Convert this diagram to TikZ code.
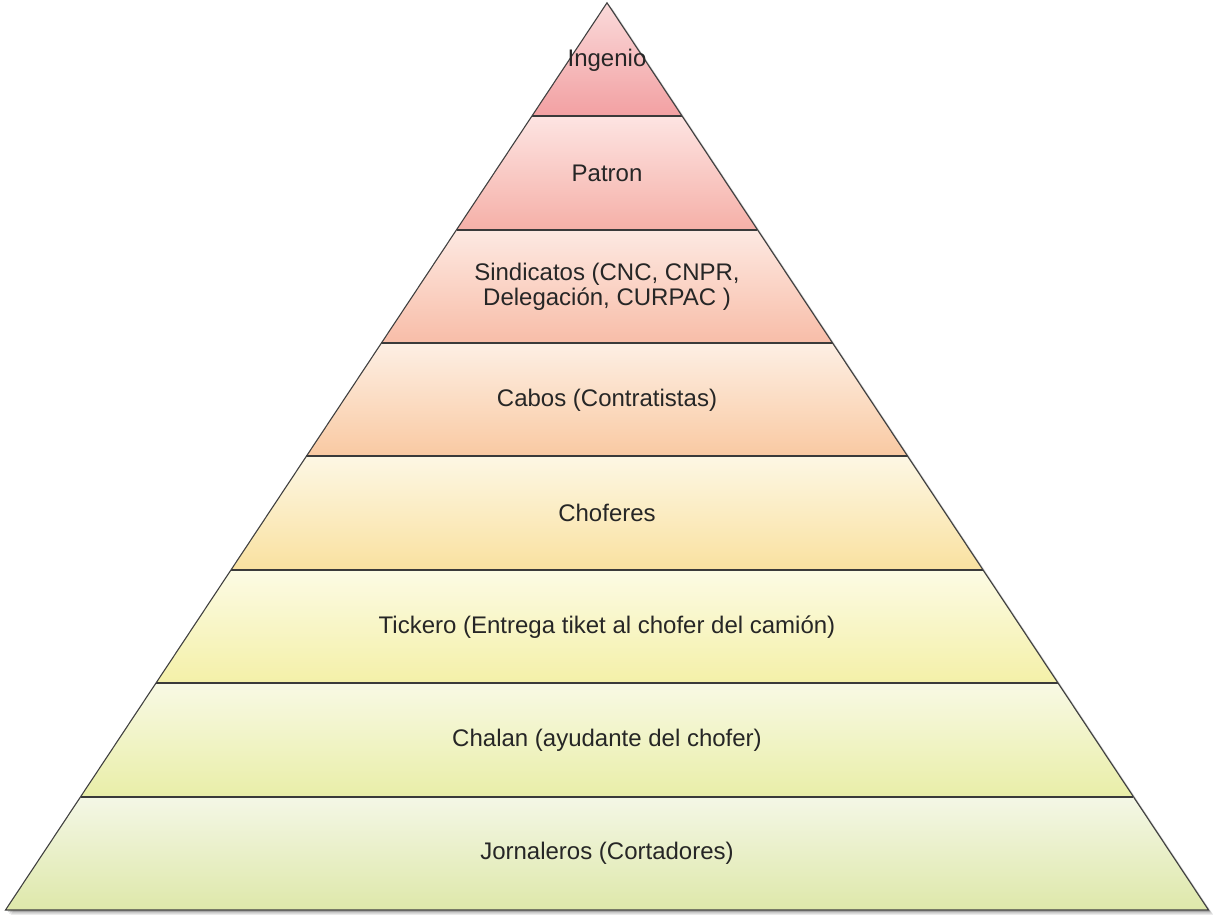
\documentclass[tikz,border=0pt]{standalone}
\usepackage{fontspec}
\setmainfont{Liberation Sans}
\definecolor{Lat}{HTML}{FADADA}\definecolor{Lab}{HTML}{F2A0A2}
\definecolor{Lbt}{HTML}{FDE4E2}\definecolor{Lbb}{HTML}{F5B0A8}
\definecolor{Lct}{HTML}{FDE9E2}\definecolor{Lcb}{HTML}{F8BDA8}
\definecolor{Ldt}{HTML}{FDEFE4}\definecolor{Ldb}{HTML}{F9C9A2}
\definecolor{Let}{HTML}{FDF7E4}\definecolor{Leb}{HTML}{F9E1A0}
\definecolor{Lft}{HTML}{FCFBE4}\definecolor{Lfb}{HTML}{F4F0A8}
\definecolor{Lgt}{HTML}{F8F9E4}\definecolor{Lgb}{HTML}{E9EEA8}
\definecolor{Lht}{HTML}{F4F7E6}\definecolor{Lhb}{HTML}{DEE8AA}
\definecolor{edge}{HTML}{404040}
\definecolor{txt}{HTML}{262626}
\tikzset{
  lbl/.style={text=txt, align=center, font=\fontsize{24}{25}\selectfont},
  outline/.style={draw=edge, line width=1.1pt, line join=miter},
  sep/.style={draw=edge!90!black, line width=2pt}
}
\begin{document}
\begin{tikzpicture}[x=1pt,y=-1pt]
\useasboundingbox (0,0) rectangle (1213,914);
% soft shadow
\foreach \o/\op in {5/0.08,3.5/0.12,2/0.18}{
  \fill[black, opacity=\op] (607+\o,2.8+\o) -- (1208.5+\o,910+\o) -- (5.5+\o,910+\o) -- cycle;
}
\foreach \k/\tc/\bc in {1/Lat/Lab,2/Lbt/Lbb,3/Lct/Lcb,4/Ldt/Ldb,5/Let/Leb,6/Lft/Lfb,7/Lgt/Lgb,8/Lht/Lhb}{
  \pgfmathsetmacro\ya{2.8+(\k-1)*113.4}
  \pgfmathsetmacro\yb{2.8+\k*113.4}
  \pgfmathsetmacro\wa{75.19*(\k-1)}
  \pgfmathsetmacro\wb{75.19*\k}
  \shade[top color=\tc, bottom color=\bc] (607-\wa,\ya) -- (607+\wa,\ya) -- (607+\wb,\yb) -- (607-\wb,\yb) -- cycle;
}
\foreach \k in {1,...,7}{
  \pgfmathsetmacro\yb{2.8+\k*113.4}
  \pgfmathsetmacro\wb{75.19*\k}
  \draw[sep] (607-\wb,\yb) -- (607+\wb,\yb);
}
\draw[outline] (607,2.8) -- (1208.5,910) -- (5.5,910) -- cycle;
\node[lbl] (L1) at (607,60) {Ingenio};
\node[lbl] (L2) at (607,173.5) {Patron};
\node[lbl] (L3) at (607,286.5) {Sindicatos (CNC, CNPR,\\Delegación, CURPAC )};
\node[lbl] (L4) at (607,400) {Cabos (Contratistas)};
\node[lbl] (L5) at (607,513) {Choferes};
\node[lbl] (L6) at (607,627) {Tickero (Entrega tiket al chofer del camión)};
\node[lbl] (L7) at (607,740) {Chalan (ayudante del chofer)};
\node[lbl] (L8) at (607,853.5) {Jornaleros (Cortadores)};
\end{tikzpicture}
\end{document}
